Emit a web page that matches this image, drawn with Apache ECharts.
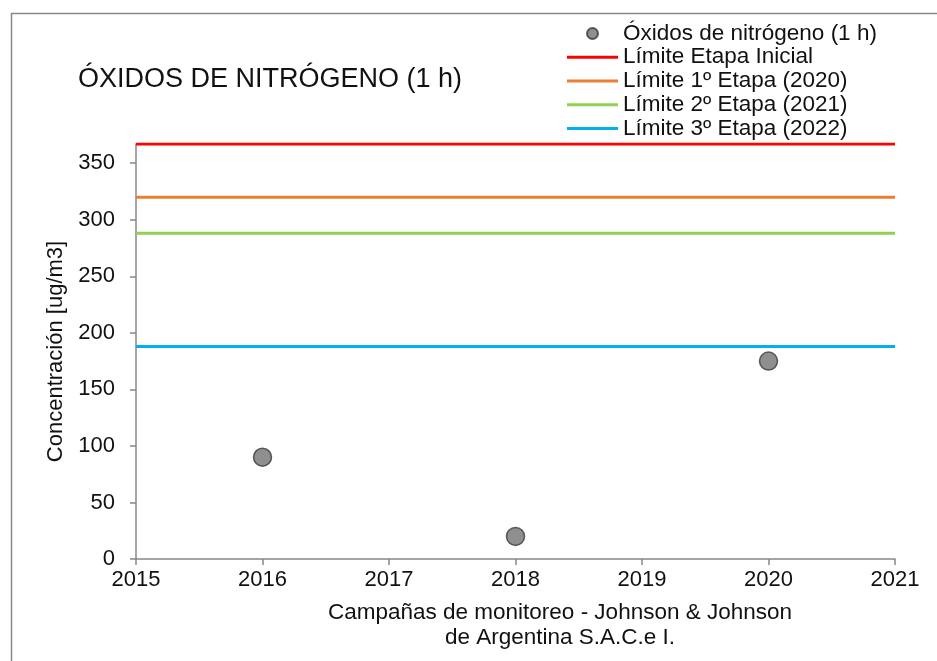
<!DOCTYPE html>
<html><head><meta charset="utf-8">
<script src="https://cdn.jsdelivr.net/npm/echarts@6/dist/echarts.min.js"></script>
<style>html,body{margin:0;padding:0;background:#fff}#c{width:937px;height:661px}</style>
</head><body><div id="c"></div>
<script>
const years = [2016, 2018, 2020];
const noxValues = [90, 20, 175];
const limitNames = ['Límite Etapa Inicial', 'Límite 1º Etapa (2020)', 'Límite 2º Etapa (2021)', 'Límite 3º Etapa (2022)'];
const limitValues = [367, 320, 288, 188];
const limitColors = ['#ff0000', '#ed7d31', '#92d050', '#00b0f0'];
const xRange = [2015, 2021];
const yTicks = [0, 50, 100, 150, 200, 250, 300, 350];
const scatterName = 'Óxidos de nitrógeno (1 h)';
const font = 'Liberation Sans, Arial, sans-serif';

const chart = echarts.init(document.getElementById('c'));
const series = [{
  name: scatterName, type: 'scatter', symbolSize: 18,
  itemStyle: {color: '#737373', borderColor: '#3a3a3a', borderWidth: 1.5},
  data: years.map((y, i) => [y, noxValues[i]]), z: 5
}];
limitNames.forEach((n, i) => {
  series.push({
    name: n, type: 'line', symbol: 'none', silent: true,
    lineStyle: {color: limitColors[i], width: 3}, itemStyle: {color: limitColors[i]},
    data: [[xRange[0], limitValues[i]], [xRange[1], limitValues[i]]], z: 3
  });
});
const lineIcon = 'path://M0,0 L51,0 L51,3 L0,3 Z';
chart.setOption({
  animation: false,
  backgroundColor: '#fff',
  grid: {left: 136, right: 42, top: 144, bottom: 102, containLabel: false},
  legend: {
    orient: 'vertical', left: 562, top: 17, itemGap: 0.75, itemWidth: 51, itemHeight: 11,
    textStyle: {fontFamily: font, fontSize: 22.5, color: '#111', lineHeight: 22},
    data: [{name: scatterName, icon: 'circle'}].concat(limitNames.map(n => ({name: n, icon: lineIcon})))
  },
  xAxis: {
    type: 'value', min: xRange[0], max: xRange[1], interval: 1,
    splitLine: {show: false},
    axisLine: {lineStyle: {color: '#888', width: 1.5}},
    axisTick: {show: true, length: 6, lineStyle: {color: '#888', width: 1.5}},
    axisLabel: {fontFamily: font, fontSize: 22, color: '#111', margin: 10, formatter: v => String(v)}
  },
  yAxis: {
    type: 'value', min: 0, max: limitValues[0],
    name: 'Concentración [ug/m3]', nameLocation: 'middle', nameGap: 67,
    nameTextStyle: {fontFamily: font, fontSize: 22, color: '#111'},
    splitLine: {show: false},
    axisLine: {show: true, lineStyle: {color: '#888', width: 1.5}},
    axisTick: {show: true, length: 6, customValues: yTicks, lineStyle: {color: '#888', width: 1.5}},
    axisLabel: {fontFamily: font, fontSize: 22, color: '#111', margin: 21, customValues: yTicks}
  },
  graphic: [
    {type: 'rect', left: 9, top: 11, shape: {width: 940, height: 660}, style: {fill: 'none', stroke: '#888', lineWidth: 1.5}, silent: true},
    {type: 'text', left: 78, top: 66, style: {text: 'ÓXIDOS DE NITRÓGENO (1 h)', fontFamily: font, fontSize: 27, fill: '#111'}},
    {type: 'text', x: 560, y: 600, style: {text: 'Campañas de monitoreo - Johnson & Johnson\nde Argentina S.A.C.e I.', fontFamily: font, fontSize: 22.5, fill: '#111', align: 'center', lineHeight: 25}}
  ],
  series: series
});
</script></body></html>
